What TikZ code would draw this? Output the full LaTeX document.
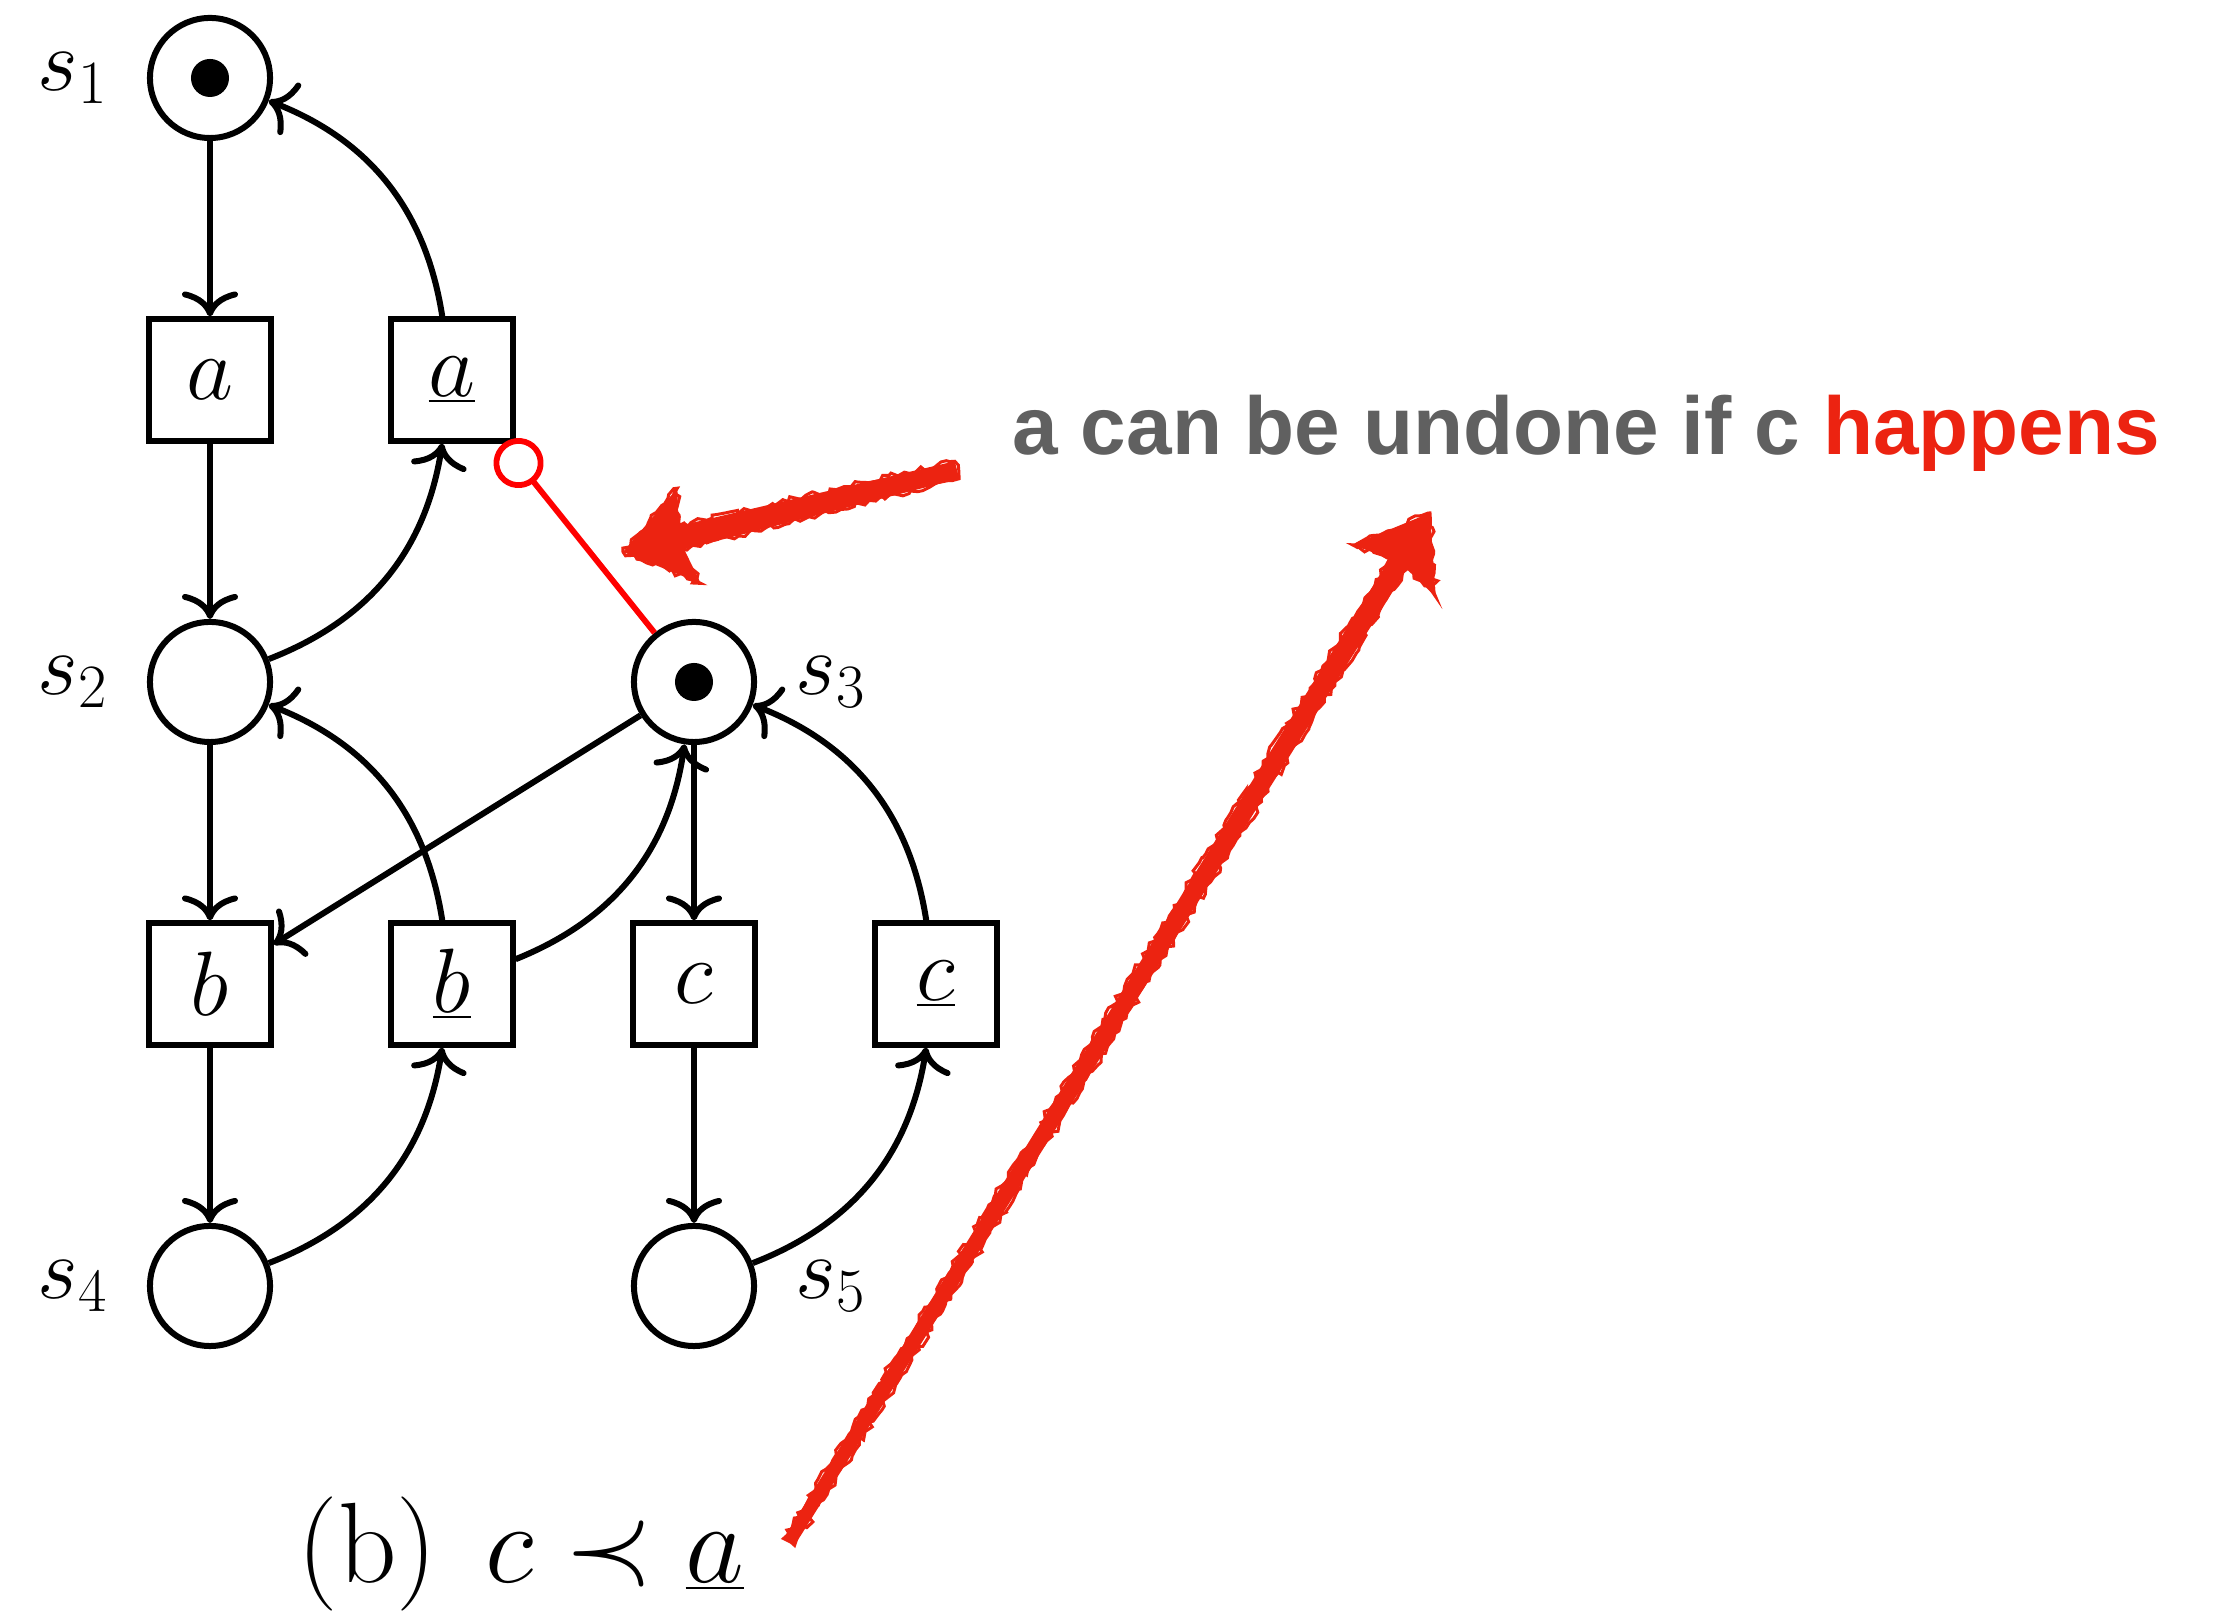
\RequirePackage{fix-cm}
\documentclass[tikz,border=0pt]{standalone}
\usepackage{fontspec}
\newfontfamily\annfont{Liberation Sans}
\usetikzlibrary{arrows.meta,positioning,calc,decorations.pathmorphing}
\definecolor{crayon}{RGB}{236,35,17}
\definecolor{anngray}{RGB}{96,96,96}
\begin{document}
\begin{tikzpicture}[x=0.01cm,y=0.01cm,
  place/.style={circle,draw,line width=0.06cm,minimum size=1.2cm,inner sep=0},
  trans/.style={rectangle,draw,line width=0.06cm,minimum size=1.21cm,inner sep=0,font=\fontsize{26}{31}\selectfont},
  token/.style={circle,fill,minimum size=0.38cm,inner sep=0},
  lab/.style={inner sep=0,font=\fontsize{25}{30}\selectfont},
  pnarc/.style={line width=0.06cm,-{Computer Modern Rightarrow[length=0.25cm,width=0.56cm,line cap=round]}},
  inhib/.style={red,line width=0.058cm,-{Circle[open,length=0.5cm,width=0.5cm]}},
  crayonfill/.style={fill=crayon,postaction={draw=crayon,line width=0.03cm,decorate,decoration={random steps,segment length=1.5pt,amplitude=0.9pt}}}
]
\pgfmathsetseed{11}
\useasboundingbox (0,0) rectangle (2229,1618);
% places
\node[place] (s1) at (210,1540) {};
\node[token] (s1tok) at (s1) {};
\node[place] (s2) at (210,936) {};
\node[place] (s3) at (694,936) {};
\node[token] (s3tok) at (s3) {};
\node[place] (s4) at (210,332) {};
\node[place] (s5) at (694,332) {};
% place labels
\node[lab,left=0.38cm of s1] (s1l) {$s_1$};
\node[lab,left=0.38cm of s2] (s2l) {$s_2$};
\node[lab,left=0.38cm of s4] (s4l) {$s_4$};
\node[lab,right=0.38cm of s3] (s3l) {$s_3$};
\node[lab,right=0.38cm of s5] (s5l) {$s_5$};
% transitions
\node[trans] (a) at (210,1238) {$a$};
\node[trans] (abar) at (452,1238) {$\underline{a}$};
\node[trans] (b) at (210,634) {$b$};
\node[trans] (bbar) at (452,634) {$\underline{b}$};
\node[trans] (c) at (694,634) {$c$};
\node[trans] (cbar) at (936,634) {$\underline{c}$};
% arcs
\draw[pnarc] (s1) -- (a);
\draw[pnarc] (abar) to[bend right=30] (s1);
\draw[pnarc] (a) -- (s2);
\draw[pnarc] (s2) to[bend right=30] (abar);
\draw[pnarc] (s2) -- (b);
\draw[pnarc] (bbar) to[bend right=30] (s2);
\draw[pnarc] (s3) -- (b);
\draw[pnarc] (b) -- (s4);
\draw[pnarc] (s4) to[bend right=30] (bbar);
\draw[pnarc] (bbar) to[bend right=30] (s3);
\draw[pnarc] (s3) -- (c);
\draw[pnarc] (c) -- (s5);
\draw[pnarc] (s5) to[bend right=30] (cbar);
\draw[pnarc] (cbar) to[bend right=30] (s3);
% inhibitor
\draw[inhib] (s3) -- (abar);
% caption
\node[anchor=base,inner sep=0,font=\fontsize{32.5}{39}\selectfont] (cap) at (521,35) {(b)\hspace{0.42em}$c \prec \underline{a}$};
% annotation
\node[anchor=base west,inner sep=0,font=\annfont\bfseries\fontsize{23.3}{28}\selectfont] (ann) at (1012,1163) {\textcolor{anngray}{a can be undone if c} \textcolor{crayon}{happens}};
% hand-drawn arrow 1
\coordinate (ar1s) at (957,1148);
\coordinate (ar1e) at (623,1066);
\coordinate (ar1n) at ($(ar1e)!0.6cm!(ar1s)$);
\coordinate (ar1b) at ($(ar1e)!0.68cm!(ar1s)$);
\fill[crayonfill]
  ($(ar1s)!0.09cm!90:(ar1e)$) -- ($(ar1n)!0.12cm!90:(ar1e)$) -- ($(ar1b)!0.49cm!90:(ar1e)$)
  -- (ar1e) -- ($(ar1b)!0.49cm!-90:(ar1e)$) -- ($(ar1n)!0.12cm!-90:(ar1e)$)
  -- ($(ar1s)!0.09cm!-90:(ar1e)$) -- cycle;
% hand-drawn arrow 2
\coordinate (ar2s) at (789,76);
\coordinate (ar2e) at (1430,1105);
\coordinate (ar2n) at ($(ar2e)!0.6cm!(ar2s)$);
\coordinate (ar2b) at ($(ar2e)!0.68cm!(ar2s)$);
\fill[crayonfill]
  ($(ar2s)!0.065cm!90:(ar2e)$) -- ($(ar2n)!0.1cm!90:(ar2e)$) -- ($(ar2b)!0.49cm!90:(ar2e)$)
  -- (ar2e) -- ($(ar2b)!0.49cm!-90:(ar2e)$) -- ($(ar2n)!0.1cm!-90:(ar2e)$)
  -- ($(ar2s)!0.065cm!-90:(ar2e)$) -- cycle;
\end{tikzpicture}
\end{document}
